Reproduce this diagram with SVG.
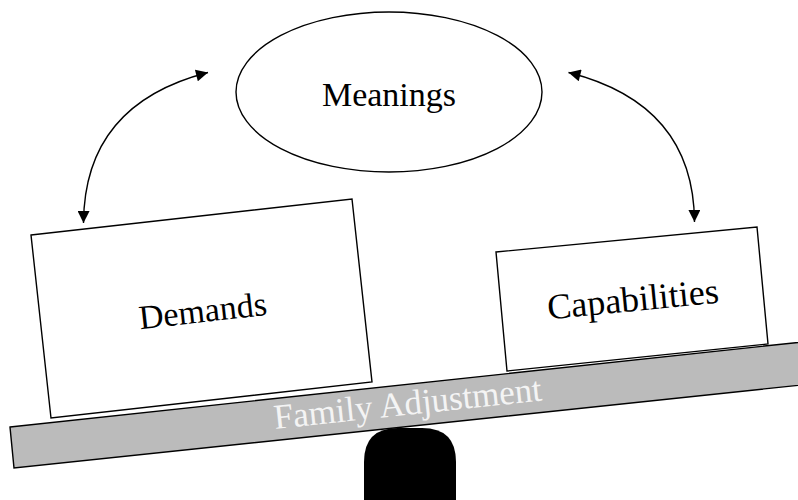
<svg xmlns="http://www.w3.org/2000/svg" width="798" height="500" viewBox="0 0 798 500">
  <style>
    .box { fill: #ffffff; stroke: #000000; stroke-width: 1.4; }
    .lbl { font-family: "Liberation Serif", "Times New Roman", serif; fill: #000000; text-anchor: middle; }
    .conn { fill: none; stroke: #000000; stroke-width: 1.4; marker-start: url(#ah); marker-end: url(#ah); }
  </style>
  <defs>
    <marker id="ah" viewBox="0 0 10 10" refX="10" refY="5" markerUnits="userSpaceOnUse" markerWidth="13" markerHeight="12" orient="auto-start-reverse">
      <path d="M0,0 L10,5 L0,10 z" fill="#000000"/>
    </marker>
  </defs>
  <rect width="798" height="500" fill="#ffffff"/>

  <g id="fulcrum">
    <path d="M364,500 L364,462 Q364,428 398,428 L422,428 Q456,428 456,462 L456,500 z" fill="#000000"/>
  </g>

  <g id="plank">
    <polygon points="10,427 830,339 830,382 14,468" fill="#bbbbbb" stroke="#000000" stroke-width="1.4"/>
    <text x="275" y="429" transform="rotate(-6.1 275 429)" font-family="Liberation Serif, Times New Roman, serif" font-size="35" fill="#f4f4f4">Family Adjustment</text>
  </g>

  <g id="demands">
    <polygon class="box" points="31,235 352,199 372,382 51,418"/>
    <text class="lbl" x="204" y="322" font-size="34" transform="rotate(-6.4 204 322)">Demands</text>
  </g>

  <g id="capabilities">
    <polygon class="box" points="496,252 757,227 768,344 507,371"/>
    <text class="lbl" x="634" y="311" font-size="36" transform="rotate(-5.6 634 311)">Capabilities</text>
  </g>

  <g id="meanings">
    <ellipse class="box" cx="389" cy="92" rx="153" ry="80"/>
    <text class="lbl" x="389" y="106" font-size="34">Meanings</text>
  </g>

  <g id="connectors">
    <path class="conn" d="M83.5,223 C84,150 120,95 208,72.5"/>
    <path class="conn" d="M694.5,222 C694,150 658,95 568.5,72.5"/>
  </g>
</svg>
